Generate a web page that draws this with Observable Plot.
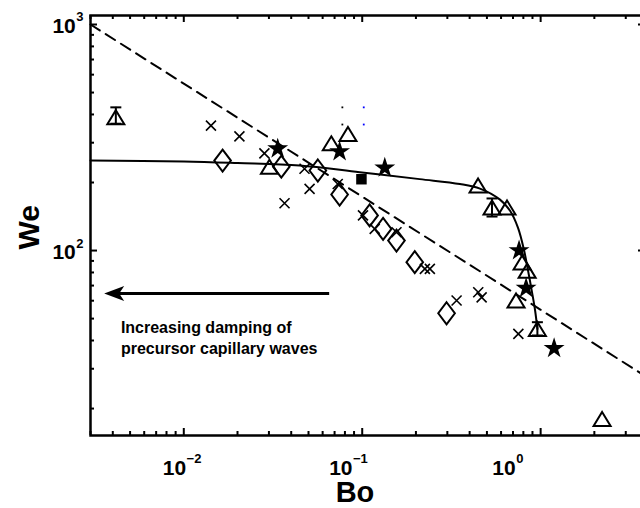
<!DOCTYPE html>
<html><head><meta charset="utf-8">
<script src="https://cdn.jsdelivr.net/npm/d3@7"></script>
<script src="https://cdn.jsdelivr.net/npm/@observablehq/plot@0.6"></script>
<style>
html,body{margin:0;padding:0;background:#fff;overflow:hidden;width:640px;height:508px;}
#chart svg{overflow:hidden;display:block;}
</style></head><body><div id="chart"></div>
<script>
// ---------- data ----------
const triBo = [0.0302, 0.0671, 0.0832, 0.446, 0.648, 0.787, 0.840, 0.728, 2.21];
const triWe = [235, 298, 328, 194, 155, 88.5, 81.5, 60.1, 18.0];

const errBo = [0.00416, 0.534, 0.959];
const errWe = [389, 155, 45.0];
const errLo = [364, 141.4, 42.1];
const errHi = [430, 170, 48.2];

const diaBo = [0.0165, 0.0352, 0.0564, 0.0747, 0.110, 0.1309, 0.1556, 0.197, 0.297];
const diaWe = [250, 235, 226, 177, 143, 124.7, 110.7, 88.8, 52.8];

const crossBo = [0.0142, 0.0205, 0.0283, 0.0367, 0.0475, 0.0507, 0.0729, 0.101, 0.1175, 0.1556, 0.2245, 0.2394, 0.338, 0.447, 0.467, 0.750];
const crossWe = [357, 320, 269, 162, 230, 187.5, 197, 143, 124.7, 120.5, 83, 83, 60.1, 65.4, 62.1, 42.8];

const starBo = [0.0336, 0.0747, 0.1338, 0.757, 0.829, 1.19];
const starWe = [285, 277, 234.6, 101, 68.8, 37.3];

const squareBo = [0.099];
const squareWe = [206.8];

const blackDotBo = [0.0774, 0.0774];
const blackDotWe = [430, 361];
const blueDotBo = [0.102, 0.102];
const blueDotWe = [430, 361];

const curveBo = [0.003, 0.01, 0.02, 0.0446, 0.0968, 0.21, 0.353, 0.457, 0.592, 0.674, 0.747, 0.808, 0.85, 0.896, 0.931, 0.959];
const curveWe = [250, 248, 244, 238, 222, 207, 197, 188, 168, 150, 126, 100, 81.5, 65, 54.3, 45.0];

const dashBo = [0.003, 3.87];
const dashWe = [1000, 27.8];

const arrowBo = [0.00358, 0.0657];   // tip, tail
const arrowWe = 64.5;

const annoLines = ["Increasing damping of", "precursor capillary waves"];
const annoBo = 0.00444;
const annoWe = [45.6, 36.9];

const xMajor = [0.01, 0.1, 1];
const xExp = ["\u22122", "\u22121", "0"];
const xMinor = [0.003,0.004,0.005,0.006,0.007,0.008,0.009,0.02,0.03,0.04,0.05,0.06,0.07,0.08,0.09,0.2,0.3,0.4,0.5,0.6,0.7,0.8,0.9,2,3];
const yMajor = [100, 1000];
const yExp = ["2", "3"];
const yMinor = [20,30,40,50,60,70,80,90,200,300,400,500,600,700,800,900];

const xTitle = "Bo";
const yTitle = "We";

// ---------- layout ----------
const W = 640, H = 508, mL = 90, mR = -5, mT = 15, mB = 73;
const FW = W - mL - mR, FH = H - mT - mB;
const FONT = '"Liberation Sans", Arial, Helvetica, sans-serif';
// horizontal shift of each x tick label relative to its tick (as in the reference)
const xLabelShift = [-2, -14, -33];

const ctx2 = document.createElement("canvas").getContext("2d");
function tw(s, size) { ctx2.font = `bold ${size}px "Liberation Sans"`; return ctx2.measureText(s).width; }

const zip = (a, b) => a.map((v, i) => ({b: v, w: b[i]}));

const sym = fn => ({draw(c) { fn(c); }});
const triangle = sym(c => { c.moveTo(0, -7); c.lineTo(8.5, 7); c.lineTo(-8.5, 7); c.closePath(); });
const diamond = sym(c => { c.moveTo(0, -11); c.lineTo(8.3, 0); c.lineTo(0, 11); c.lineTo(-8.3, 0); c.closePath(); });
const times = sym(c => { c.moveTo(-5, -5); c.lineTo(5, 5); c.moveTo(-5, 5); c.lineTo(5, -5); });
const star = sym(c => {
  const R = 11, r = R * 0.382;
  for (let i = 0; i < 10; i++) {
    const a = -Math.PI / 2 + i * Math.PI / 5, rr = i % 2 ? r : R;
    const x = rr * Math.cos(a), y = rr * Math.sin(a) + 1;
    if (i) c.lineTo(x, y); else c.moveTo(x, y);
  }
  c.closePath();
});
const square = sym(c => { c.moveTo(-5.25, -5.25); c.lineTo(5.25, -5.25); c.lineTo(5.25, 5.25); c.lineTo(-5.25, 5.25); c.closePath(); });
const cap = sym(c => { c.moveTo(-5.5, 0); c.lineTo(5.5, 0); });
const arrowHead = sym(c => { c.moveTo(0, 0); c.lineTo(20, -7.5); c.lineTo(15, 0); c.lineTo(20, 7.5); c.closePath(); });
const speck = sym(c => { c.moveTo(-0.9, -0.9); c.lineTo(0.9, -0.9); c.lineTo(0.9, 0.9); c.lineTo(-0.9, 0.9); c.closePath(); });

const err = errBo.map((b, i) => ({b, w: errWe[i], lo: errLo[i], hi: errHi[i]}));

const textStyle = {fontFamily: FONT, fontWeight: "bold", fill: "black"};

const marks = [
  Plot.line(zip(dashBo, dashWe), {x: "b", y: "w", stroke: "black", strokeWidth: 2, strokeDasharray: "11,7"}),
  Plot.line(zip(curveBo, curveWe), {x: "b", y: "w", stroke: "black", strokeWidth: 2, curve: "catmull-rom"}),
  Plot.ruleX(err, {x: "b", y1: "lo", y2: "hi", stroke: "black", strokeWidth: 2}),
  Plot.dot(err, {x: "b", y: "lo", symbol: cap, stroke: "black", fill: "none", strokeWidth: 2}),
  Plot.dot(err, {x: "b", y: "hi", symbol: cap, stroke: "black", fill: "none", strokeWidth: 2}),
  Plot.dot(err, {x: "b", y: "w", symbol: triangle, stroke: "black", fill: "none", strokeWidth: 2}),
  Plot.dot(zip(triBo, triWe), {x: "b", y: "w", symbol: triangle, stroke: "black", fill: "none", strokeWidth: 2}),
  Plot.dot(zip(diaBo, diaWe), {x: "b", y: "w", symbol: diamond, stroke: "black", fill: "none", strokeWidth: 2}),
  Plot.dot(zip(crossBo, crossWe), {x: "b", y: "w", symbol: times, stroke: "black", fill: "none", strokeWidth: 1.6}),
  Plot.dot(zip(starBo, starWe), {x: "b", y: "w", symbol: star, fill: "black", stroke: "none"}),
  Plot.dot(zip(squareBo, squareWe), {x: "b", y: "w", symbol: square, fill: "black", stroke: "none"}),
  Plot.dot(zip(blackDotBo, blackDotWe), {x: "b", y: "w", symbol: speck, fill: "black", stroke: "none"}),
  Plot.dot(zip(blueDotBo, blueDotWe), {x: "b", y: "w", symbol: speck, fill: "blue", stroke: "none"}),
  Plot.ruleY([{w: arrowWe, b1: arrowBo[0], b2: arrowBo[1]}], {y: "w", x1: "b1", x2: "b2", stroke: "black", strokeWidth: 3, insetLeft: 12}),
  Plot.dot([{b: arrowBo[0], w: arrowWe}], {x: "b", y: "w", symbol: arrowHead, fill: "black", stroke: "none"}),
  Plot.text(annoLines.map((t, i) => ({t, b: annoBo, w: annoWe[i]})), {x: "b", y: "w", text: "t", textAnchor: "start", fontSize: 16, ...textStyle}),
  Plot.frame({stroke: "black", strokeWidth: 2.5}),
  Plot.ruleX(xMajor, {x: d => d, insetTop: FH - 7, stroke: "black", strokeWidth: 2}),
  Plot.ruleX(xMajor, {x: d => d, insetBottom: FH - 7, stroke: "black", strokeWidth: 2}),
  Plot.ruleX(xMinor, {x: d => d, insetTop: FH - 4, stroke: "black", strokeWidth: 2}),
  Plot.ruleX(xMinor, {x: d => d, insetBottom: FH - 4, stroke: "black", strokeWidth: 2}),
  Plot.ruleY(yMajor, {y: d => d, insetRight: FW - 7, stroke: "black", strokeWidth: 2}),
  Plot.ruleY(yMajor, {y: d => d, insetLeft: FW - 7, stroke: "black", strokeWidth: 2}),
  Plot.ruleY(yMinor, {y: d => d, insetRight: FW - 4, stroke: "black", strokeWidth: 2}),
  Plot.ruleY(yMinor, {y: d => d, insetLeft: FW - 4, stroke: "black", strokeWidth: 2}),
  Plot.text([xTitle], {frameAnchor: "bottom", text: d => d, dx: -13, dy: 66, lineAnchor: "bottom", fontSize: 29, ...textStyle}),
  Plot.text([yTitle], {frameAnchor: "left", text: d => d, rotate: -90, dx: -52, dy: 24, lineAnchor: "bottom", fontSize: 30, ...textStyle})
];

xMajor.forEach((v, i) => {
  const w10 = tw("10", 21), we = tw(xExp[i], 13);
  const off = (w10 - we) / 2 + xLabelShift[i];
  marks.push(Plot.text([v], {x: d => d, frameAnchor: "bottom", text: () => "10", textAnchor: "end", dx: off, dy: 39, lineAnchor: "bottom", fontSize: 21, ...textStyle}));
  marks.push(Plot.text([v], {x: d => d, frameAnchor: "bottom", text: () => xExp[i], textAnchor: "start", dx: off + 0.5, dy: 27, lineAnchor: "bottom", fontSize: 13, ...textStyle}));
});
yMajor.forEach((v, i) => {
  const we = tw(yExp[i], 13);
  marks.push(Plot.text([v], {y: d => d, frameAnchor: "left", text: () => "10", textAnchor: "end", dx: -7 - we - 0.5, dy: 8.5, lineAnchor: "bottom", fontSize: 21, ...textStyle}));
  marks.push(Plot.text([v], {y: d => d, frameAnchor: "left", text: () => yExp[i], textAnchor: "end", dx: -7, dy: -3, lineAnchor: "bottom", fontSize: 13, ...textStyle}));
});

const plot = Plot.plot({
  width: W, height: H,
  marginLeft: mL, marginRight: mR, marginTop: mT, marginBottom: mB,
  x: {type: "log", domain: [0.003, 3.87], axis: null},
  y: {type: "log", domain: [15.2, 1096], axis: null},
  style: {background: "white", overflow: "hidden", fontFamily: FONT},
  marks
});
document.getElementById("chart").append(plot);
</script>
</body></html>
